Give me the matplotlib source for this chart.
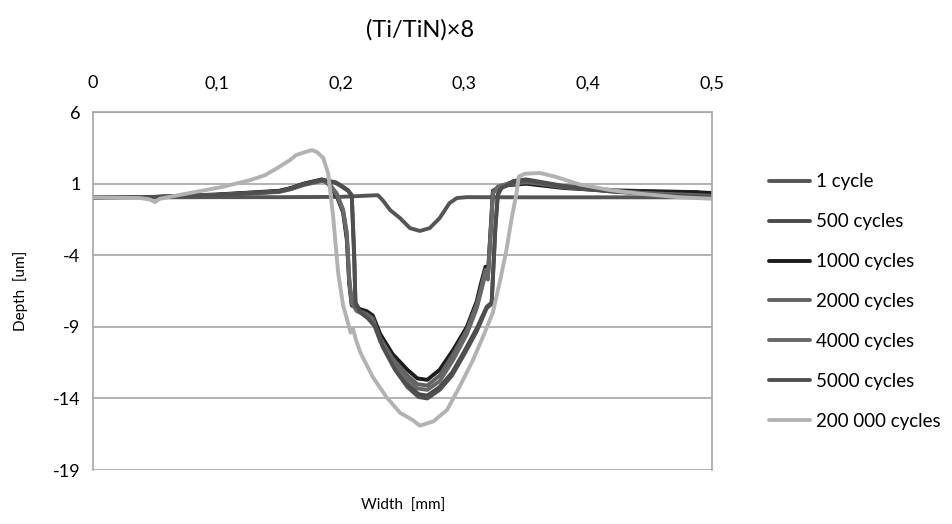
import matplotlib
matplotlib.use('Agg')
from matplotlib import pyplot as plt

plt.rcParams['font.family'] = ['Lato', 'DejaVu Sans']
plt.rcParams['axes.unicode_minus'] = False

title = '(Ti/TiN)\u00d78'
labels = ['1 cycle', '500 cycles', '1000 cycles', '2000 cycles',
          '4000 cycles', '5000 cycles', '200 000 cycles']
x_ticks = [0, 0.1, 0.2, 0.3, 0.4, 0.5]
x_tick_labels = ['0', '0,1', '0,2', '0,3', '0,4', '0,5']
y_ticks = [6, 1, -4, -9, -14, -19]

# 1 cycle: almost flat with a shallow groove
x_1 = [0, 0.05, 0.1, 0.15, 0.2, 0.23, 0.234, 0.24, 0.248, 0.252, 0.256,
       0.264, 0.272, 0.28, 0.288, 0.294, 0.302, 0.35, 0.4, 0.45, 0.5]
y_1 = [0.05, 0.05, 0.06, 0.06, 0.08, 0.2, -0.15, -0.84, -1.4, -1.75, -2.1,
       -2.3, -2.1, -1.4, -0.35, 0.0, 0.06, 0.05, 0.05, 0.05, 0.05]

# curves that drop earlier (around 0.205 mm)
x_early = [0, 0.05, 0.1, 0.15, 0.16, 0.17, 0.185, 0.19, 0.197, 0.202, 0.205,
           0.207, 0.209, 0.213, 0.221, 0.226, 0.232, 0.242, 0.254, 0.262,
           0.27, 0.28, 0.291, 0.302, 0.31, 0.313, 0.317, 0.319, 0.322, 0.323,
           0.327, 0.335, 0.35, 0.36, 0.38, 0.42, 0.46, 0.49, 0.5]
y_1000 = [0.05, 0.08, 0.25, 0.5, 0.7, 1.0, 1.3, 1.0, 0.1, -1.0, -2.9, -6.0,
          -7.5, -7.7, -7.9, -8.2, -9.5, -10.9, -12.0, -12.6, -12.7, -12.0,
          -10.6, -9.0, -7.2, -6.1, -4.8, -5.3, -1.0, 0.5, 0.7, 0.9, 1.0, 0.9,
          0.7, 0.5, 0.45, 0.4, 0.35]
y_2000 = [0.05, 0.08, 0.22, 0.45, 0.65, 0.95, 1.25, 1.05, 0.2, -0.9, -2.6,
          -5.8, -7.4, -7.8, -8.1, -8.4, -9.8, -11.2, -12.4, -13.0, -13.1,
          -12.4, -10.9, -9.2, -7.4, -6.4, -5.0, -5.5, -1.2, 0.4, 0.75, 0.95,
          1.1, 1.0, 0.75, 0.45, 0.3, 0.2, 0.15]
y_4000 = [0.05, 0.07, 0.2, 0.42, 0.62, 0.9, 1.2, 1.1, 0.3, -0.8, -2.4, -5.6,
          -7.3, -7.9, -8.2, -8.6, -10.0, -11.5, -12.7, -13.3, -13.4, -12.8,
          -11.3, -9.5, -7.7, -6.7, -5.3, -5.7, -1.5, 0.3, 0.8, 1.0, 1.15, 1.05,
          0.8, 0.5, 0.25, 0.1, 0.05]

# curves that drop later (around 0.211 mm)
x_late = [0, 0.05, 0.1, 0.15, 0.16, 0.17, 0.185, 0.19, 0.196, 0.2, 0.206,
          0.209, 0.211, 0.212, 0.216, 0.222, 0.228, 0.234, 0.244, 0.254,
          0.263, 0.27, 0.28, 0.29, 0.3, 0.31, 0.318, 0.322, 0.325, 0.327,
          0.33, 0.34, 0.35, 0.36, 0.38, 0.42, 0.46, 0.488]
y_500 = [0.05, 0.07, 0.22, 0.48, 0.68, 0.98, 1.28, 1.2, 1.1, 0.9, 0.55, 0.2,
         -4.0, -7.3, -7.9, -8.3, -8.8, -10.2, -11.8, -13.0, -13.7, -13.8,
         -13.2, -12.2, -10.7, -9.1, -7.6, -7.3, -2.0, 0.3, 0.8, 1.2, 1.3,
         1.15, 0.85, 0.55, 0.45, 0.42]
y_5000 = [0.05, 0.07, 0.2, 0.45, 0.66, 0.96, 1.25, 1.18, 1.05, 0.85, 0.5,
          0.15, -4.2, -7.4, -8.0, -8.4, -9.0, -10.4, -12.0, -13.2, -13.9,
          -14.0, -13.4, -12.4, -10.9, -9.3, -7.7, -7.4, -2.2, 0.2, 0.7, 1.1,
          1.25, 1.1, 0.8, 0.45, 0.2, 0.1]
x_5000 = x_late + [0.5]
y_5000 = y_5000 + [0.05]

# 200 000 cycles: pile-up before the track, deepest groove
x_200k = [0, 0.038, 0.046, 0.05, 0.054, 0.078, 0.103, 0.127, 0.139, 0.149,
          0.159, 0.162, 0.164, 0.171, 0.177, 0.181, 0.186, 0.19, 0.194,
          0.198, 0.202, 0.205, 0.208, 0.21, 0.212, 0.216, 0.226, 0.237,
          0.248, 0.258, 0.264, 0.275, 0.286, 0.296, 0.307, 0.315, 0.323,
          0.329, 0.334, 0.338, 0.342, 0.344, 0.349, 0.361, 0.373, 0.393,
          0.418, 0.442, 0.474, 0.5]
y_200k = [0.05, 0.0, -0.1, -0.28, -0.05, 0.35, 0.75, 1.25, 1.6, 2.1, 2.65,
          2.85, 3.0, 3.2, 3.35, 3.2, 2.8, 1.7, -1.3, -5.2, -7.5, -8.4, -9.4,
          -9.1, -9.8, -10.8, -12.5, -13.9, -15.0, -15.5, -15.9, -15.6, -14.8,
          -13.2, -11.3, -9.7, -8.0, -5.7, -3.6, -1.5, 0.3, 1.5, 1.7, 1.75,
          1.5, 0.95, 0.55, 0.3, 0.05, -0.05]

series = [
    (x_1, y_1, '#555555'),
    (x_late, y_500, '#4a4a4a'),
    (x_early, y_1000, '#1c1c1c'),
    (x_early, y_2000, '#626262'),
    (x_early, y_4000, '#686868'),
    (x_5000, y_5000, '#4f4f4f'),
    (x_200k, y_200k, '#b2b2b2'),
]

fig = plt.figure(figsize=(9.53, 5.24), dpi=100)
ax = fig.add_axes([0.0976, 0.103, 0.6495, 0.683])

for (xs, ys, c), lab in zip(series, labels):
    ax.plot(xs, ys, color=c, lw=2.8, label=lab, solid_capstyle='round')

ax.set_xlim(0, 0.5)
ax.set_ylim(-19, 6)
ax.set_yticks(y_ticks)
ax.set_xticks(x_ticks)
ax.set_xticklabels(x_tick_labels)
ax.xaxis.tick_top()
ax.tick_params(axis='both', length=0, labelsize=13, colors='black')
ax.tick_params(axis='x', pad=15)
ax.tick_params(axis='y', pad=9)
ax.grid(axis='y', color='#a6a6a6', lw=1.2)
ax.set_axisbelow(True)
for s in ax.spines.values():
    s.set_color('#a6a6a6')
    s.set_linewidth(1.2)
ax.spines['bottom'].set_visible(False)

fig.text(0.441, 0.943, title, fontsize=17, ha='center', va='center')
fig.text(0.423, 0.022, 'Width  [mm]', fontsize=11, ha='center', va='bottom')
fig.text(0.022, 0.445, 'Depth  [um]', fontsize=11, rotation=90,
         ha='center', va='center')

ax.legend(loc='upper left', bbox_to_anchor=(1.08, 0.85), frameon=False,
          fontsize=13.5, handlelength=2.2, handletextpad=0.3,
          labelspacing=1.22, borderaxespad=0)

fig.savefig('out.png', dpi=100)
